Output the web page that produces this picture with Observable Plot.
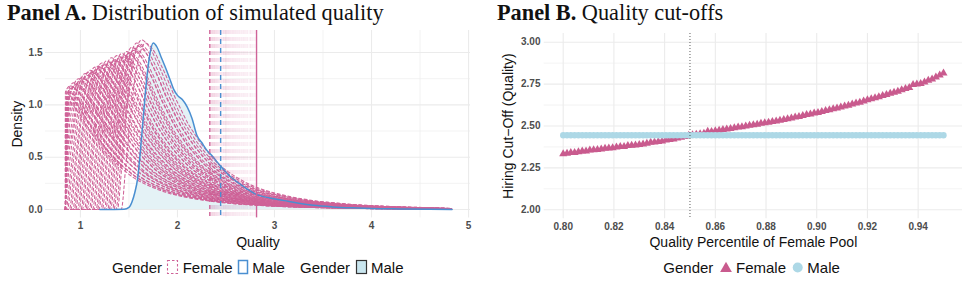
<!DOCTYPE html>
<html>
<head>
<meta charset="utf-8">
<script src="https://cdn.jsdelivr.net/npm/d3@7"></script>
<script src="https://cdn.jsdelivr.net/npm/@observablehq/plot@0.6"></script>
<style>
  body { margin: 0; background: #fff; }
  #fig { position: relative; width: 968px; height: 281px; overflow: hidden; background: #fff; }
  #fig svg.panel { position: absolute; top: 0; }
  #overlay { position: absolute; left: 0; top: 0; pointer-events: none; }
</style>
</head>
<body>
<div id="fig"></div>
<script>
// ---------- Panel A: simulated quality densities ----------
const qualityTicks = [1, 2, 3, 4, 5];
const qualityMinorTicks = [1.5, 2.5, 3.5, 4.5];
const densityTicks = [0, 0.5, 1, 1.5];
const densityMinorTicks = [0.25, 0.75, 1.25];

// range of simulated quality values
const qualityMin = 0.845;
const qualityMax = 4.83;

// male density curve
const maleQuality = [1.20, 1.45, 1.50, 1.53, 1.56, 1.59, 1.62, 1.65, 1.68, 1.71, 1.75, 1.79, 1.83, 1.87, 1.92, 1.96, 2.00, 2.05, 2.10, 2.15, 2.20, 2.25, 2.30, 2.35, 2.44, 2.55, 2.65, 2.80, 2.95, 3.10, 3.25, 3.40, 3.60, 3.80, 4.00, 4.30, 4.60, 4.83];
const maleDensity = [0, 0.003, 0.02, 0.07, 0.16, 0.30, 0.58, 0.91, 1.22, 1.45, 1.59, 1.55, 1.46, 1.37, 1.25, 1.15, 1.09, 1.05, 0.98, 0.87, 0.71, 0.64, 0.57, 0.52, 0.42, 0.31, 0.24, 0.15, 0.11, 0.085, 0.06, 0.04, 0.025, 0.016, 0.01, 0.006, 0.003, 0.001];

// female density shape, relative to each pool's lower bound (offset, relative density)
const profileOffset = [0, 0.05, 0.10, 0.15, 0.20, 0.25, 0.30, 0.35, 0.40, 0.45, 0.50, 0.55, 0.60, 0.65, 0.70, 0.75, 0.80, 0.85, 0.90, 0.95, 1.00, 1.10, 1.20, 1.30, 1.40, 1.50, 1.60, 1.70, 1.80, 1.90, 2.00, 2.20, 2.40, 2.60, 2.80, 3.00, 3.20, 3.40, 3.60, 3.80, 4.00, 4.20, 4.40];
const profileDensity = [0, 0.28, 0.58, 0.82, 0.95, 1.00, 0.98, 0.94, 0.88, 0.82, 0.75, 0.68, 0.62, 0.56, 0.505, 0.46, 0.415, 0.375, 0.34, 0.305, 0.275, 0.228, 0.19, 0.158, 0.132, 0.113, 0.097, 0.083, 0.071, 0.061, 0.052, 0.04, 0.03, 0.023, 0.018, 0.014, 0.011, 0.008, 0.006, 0.004, 0.003, 0.002, 0.001];

// one female pool per simulation: lower bound and peak density
const femaleFloor = [0.56, 0.575, 0.59, 0.61, 0.625, 0.645, 0.66, 0.68, 0.695, 0.71, 0.73, 0.745, 0.765, 0.78, 0.80, 0.815, 0.83, 0.85, 0.865, 0.885, 0.90, 0.92, 0.935, 0.95, 0.97, 0.985, 1.005, 1.02, 1.04, 1.055, 1.07, 1.09, 1.105, 1.125, 1.14, 1.16, 1.175, 1.19, 1.21, 1.225, 1.245, 1.26, 1.28, 1.295, 1.31, 1.33, 1.345, 1.365, 1.38, 1.42];
const femalePeak = [1.08, 1.12, 1.10, 1.14, 1.12, 1.18, 1.16, 1.21, 1.19, 1.20, 1.25, 1.23, 1.26, 1.25, 1.30, 1.28, 1.31, 1.33, 1.31, 1.32, 1.36, 1.34, 1.37, 1.36, 1.40, 1.38, 1.39, 1.42, 1.40, 1.41, 1.45, 1.42, 1.43, 1.47, 1.44, 1.46, 1.49, 1.46, 1.47, 1.51, 1.49, 1.50, 1.55, 1.52, 1.54, 1.59, 1.56, 1.58, 1.62, 1.59];

// ---------- Panel B: hiring cut-offs ----------
const percentile = [
  0.8000, 0.8015, 0.8030, 0.8045, 0.8060, 0.8075, 0.8090, 0.8105, 0.8120, 0.8135,
  0.8150, 0.8165, 0.8180, 0.8195, 0.8210, 0.8225, 0.8240, 0.8255, 0.8270, 0.8285,
  0.8300, 0.8315, 0.8330, 0.8345, 0.8360, 0.8375, 0.8390, 0.8405, 0.8420, 0.8435,
  0.8450, 0.8465, 0.8480, 0.8495, 0.8510, 0.8525, 0.8540, 0.8555, 0.8570, 0.8585,
  0.8600, 0.8615, 0.8630, 0.8645, 0.8660, 0.8675, 0.8690, 0.8705, 0.8720, 0.8735,
  0.8750, 0.8765, 0.8780, 0.8795, 0.8810, 0.8825, 0.8840, 0.8855, 0.8870, 0.8885,
  0.8900, 0.8915, 0.8930, 0.8945, 0.8960, 0.8975, 0.8990, 0.9005, 0.9020, 0.9035,
  0.9050, 0.9065, 0.9080, 0.9095, 0.9110, 0.9125, 0.9140, 0.9155, 0.9170, 0.9185,
  0.9200, 0.9215, 0.9230, 0.9245, 0.9260, 0.9275, 0.9290, 0.9305, 0.9320, 0.9335,
  0.9350, 0.9365, 0.9380, 0.9395, 0.9410, 0.9425, 0.9440, 0.9455, 0.9470, 0.9485,
  0.9500
];
const femaleCutoff = [
  2.333, 2.336, 2.340, 2.341, 2.345, 2.349, 2.350, 2.356, 2.357, 2.358,
  2.362, 2.366, 2.367, 2.369, 2.374, 2.376, 2.377, 2.382, 2.384, 2.386,
  2.389, 2.391, 2.396, 2.402, 2.404, 2.407, 2.410, 2.415, 2.418, 2.421,
  2.428, 2.432, 2.436, 2.443, 2.447, 2.450, 2.452, 2.456, 2.468, 2.466,
  2.470, 2.474, 2.478, 2.481, 2.484, 2.489, 2.493, 2.495, 2.499, 2.503,
  2.506, 2.510, 2.516, 2.518, 2.521, 2.526, 2.529, 2.533, 2.538, 2.542,
  2.547, 2.552, 2.555, 2.561, 2.567, 2.570, 2.576, 2.580, 2.585, 2.591,
  2.596, 2.602, 2.606, 2.612, 2.618, 2.623, 2.630, 2.636, 2.641, 2.648,
  2.655, 2.661, 2.667, 2.674, 2.681, 2.687, 2.694, 2.700, 2.707, 2.715,
  2.722, 2.728, 2.747, 2.749, 2.752, 2.762, 2.772, 2.780, 2.792, 2.803,
  2.815
];
const maleCutoff = 2.445;
const referencePercentile = 0.85;

const percentileTicks = [0.80, 0.82, 0.84, 0.86, 0.88, 0.90, 0.92, 0.94];
const cutoffTicks = [2.00, 2.25, 2.50, 2.75, 3.00];
const cutoffMinorTicks = [2.125, 2.375, 2.625, 2.875];

// ---------- styling ----------
const PINK = "#cf6398";
const PINK_DOT = "#c95b8e";
const BLUE = "#4a8fd1";
const MALE_FILL = "#e4f2f6";
const MALE_DOT = "#add8e6";
const GRID = "#ebebeb";
const TICK = "#4d4d4d";
const SANS = "'Liberation Sans', Arial, Helvetica, sans-serif";

// ---------- build tables ----------
const male = maleQuality.map((x, i) => ({x, y: maleDensity[i]}));

const femaleCurves = [];
femaleFloor.forEach((floor, k) => {
  femaleCurves.push({curve: k, x: qualityMin, y: 0});
  profileOffset.forEach((d, j) => {
    const x = floor + d;
    if (x >= qualityMin && x <= qualityMax) {
      femaleCurves.push({curve: k, x, y: femalePeak[k] * profileDensity[j]});
    }
  });
});

const cutoffs = percentile.map((p, i) => ({p, female: femaleCutoff[i], male: maleCutoff}));

const tickStyle = {tickSize: 0, fontWeight: "bold", fill: TICK, label: null};
const axisTitle = {text: d => d, fontSize: 14, fill: "#111", textAnchor: "middle", lineAnchor: "middle"};

// ---------- Panel A ----------
const plotA = Plot.plot({
  width: 484, height: 281,
  marginTop: 30, marginRight: 14, marginBottom: 63.6, marginLeft: 45,
  x: {domain: [0.64, 5.02]},
  y: {domain: [-0.08, 1.71]},
  style: {fontFamily: SANS, fontSize: "10px", background: "transparent", overflow: "visible"},
  marks: [
    Plot.ruleX(qualityMinorTicks, {stroke: GRID, strokeWidth: 0.6}),
    Plot.ruleY(densityMinorTicks, {stroke: GRID, strokeWidth: 0.6}),
    Plot.ruleX(qualityTicks, {stroke: GRID, strokeWidth: 1.1}),
    Plot.ruleY(densityTicks, {stroke: GRID, strokeWidth: 1.1}),
    Plot.areaY(male, {x: "x", y: "y", fill: MALE_FILL, curve: "monotone-x"}),
    Plot.line(femaleCurves, {x: "x", y: "y", z: "curve", stroke: PINK, strokeWidth: 1.05, strokeDasharray: "3,2.5", curve: "monotone-x"}),
    Plot.line(male, {x: "x", y: "y", stroke: BLUE, strokeWidth: 1.5, curve: "monotone-x"}),
    Plot.ruleX(femaleCutoff, {stroke: PINK, strokeOpacity: 0.07, strokeDasharray: "4,3"}),
    Plot.ruleX([d3.min(femaleCutoff)], {stroke: PINK, strokeWidth: 1.3, strokeDasharray: "4,3"}),
    Plot.ruleX([maleCutoff], {stroke: BLUE, strokeWidth: 1.4, strokeDasharray: "5,4"}),
    Plot.ruleX([d3.max(femaleCutoff)], {stroke: PINK, strokeWidth: 1.4}),
    Plot.axisX({...tickStyle, ticks: qualityTicks, tickPadding: 4, tickFormat: d3.format("d")}),
    Plot.axisY({...tickStyle, ticks: densityTicks, tickPadding: 3, tickFormat: d3.format(".1f")}),
    Plot.text(["Quality"], {...axisTitle, frameAnchor: "bottom", dy: 24.3}),
    Plot.text(["Density"], {...axisTitle, frameAnchor: "left", dx: -28, rotate: -90})
  ]
});

// ---------- Panel B ----------
const plotB = Plot.plot({
  width: 484, height: 281,
  marginTop: 33, marginRight: 6, marginBottom: 62.7, marginLeft: 59.7,
  x: {domain: [0.7925, 0.9575]},
  y: {domain: [1.946, 3.052]},
  style: {fontFamily: SANS, fontSize: "10px", background: "transparent", overflow: "visible"},
  marks: [
    Plot.ruleY(cutoffMinorTicks, {stroke: GRID, strokeWidth: 0.6}),
    Plot.ruleX(percentileTicks, {stroke: GRID, strokeWidth: 1.1}),
    Plot.ruleY(cutoffTicks, {stroke: GRID, strokeWidth: 1.1}),
    Plot.dot(cutoffs, {x: "p", y: "female", symbol: "triangle", r: 3, fill: PINK_DOT}),
    Plot.dot(cutoffs, {x: "p", y: "male", r: 3.2, fill: MALE_DOT}),
    Plot.ruleX([referencePercentile], {stroke: "#333", strokeWidth: 0.8, strokeDasharray: "1,2"}),
    Plot.axisX({...tickStyle, ticks: percentileTicks, tickPadding: 4, tickFormat: d3.format(".2f")}),
    Plot.axisY({...tickStyle, ticks: cutoffTicks, tickPadding: 3.7, tickFormat: d3.format(".2f")}),
    Plot.text(["Quality Percentile of Female Pool"], {...axisTitle, frameAnchor: "bottom", dy: 23.4}),
    Plot.text(["Hiring Cut\u2212Off (Quality)"], {...axisTitle, frameAnchor: "left", dx: -35.7, rotate: -90})
  ]
});

const fig = document.getElementById("fig");
plotA.classList.add("panel");
plotB.classList.add("panel");
plotA.style.left = "0px";
plotB.style.left = "484px";
fig.appendChild(plotA);
fig.appendChild(plotB);

// ---------- titles and legends ----------
const overlay = d3.select(fig).append("svg")
  .attr("id", "overlay")
  .attr("width", 968).attr("height", 281);

function title(x, bold, rest) {
  const t = overlay.append("text")
    .attr("x", x).attr("y", 20)
    .attr("font-family", "'Liberation Serif', 'Times New Roman', serif")
    .attr("font-size", 22.3)
    .attr("fill", "#111");
  t.append("tspan").attr("font-weight", "bold").text(bold);
  t.append("tspan").text(rest);
}
title(7, "Panel A.", " Distribution of simulated quality");
title(497, "Panel B.", " Quality cut-offs");

const legendY = 273.4;
function label(x, s) {
  overlay.append("text")
    .attr("x", x).attr("y", legendY)
    .attr("font-family", SANS).attr("font-size", 15).attr("fill", "#111")
    .text(s);
}

// Panel A legend
label(112, "Gender");
overlay.append("rect").attr("x", 167.5).attr("y", 260.5).attr("width", 10).attr("height", 13)
  .attr("fill", "none").attr("stroke", PINK).attr("stroke-width", 1.1).attr("stroke-dasharray", "2.5,2");
label(182.7, "Female");
overlay.append("rect").attr("x", 238.5).attr("y", 260.5).attr("width", 9).attr("height", 13)
  .attr("fill", "#fff").attr("stroke", BLUE).attr("stroke-width", 1.5);
label(252.3, "Male");
label(300, "Gender");
overlay.append("rect").attr("x", 356.5).attr("y", 260.5).attr("width", 10).attr("height", 13)
  .attr("fill", "#c9e6ef").attr("stroke", "#333").attr("stroke-width", 1.2);
label(371, "Male");

// Panel B legend
label(663.3, "Gender");
overlay.append("path")
  .attr("d", d3.symbol(d3.symbolTriangle, 60)())
  .attr("transform", `translate(726,268.5)`)
  .attr("fill", PINK_DOT);
label(736, "Female");
overlay.append("circle").attr("cx", 797.7).attr("cy", 267.5).attr("r", 5).attr("fill", MALE_DOT);
label(807.3, "Male");
</script>
</body>
</html>
